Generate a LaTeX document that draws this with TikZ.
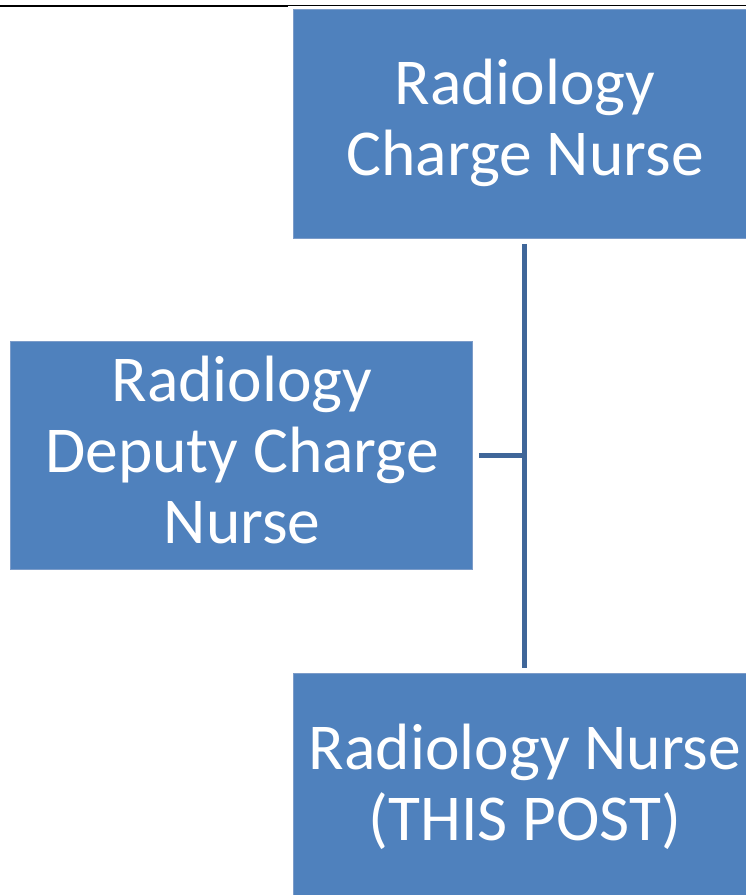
\documentclass[tikz,border=0pt]{standalone}
\usepackage{fontspec}
\setmainfont{Carlito}
\definecolor{boxblue}{HTML}{4F81BD}
\definecolor{boxedge}{HTML}{7C9CC9}
\definecolor{linkblue}{HTML}{3F6699}
\begin{document}
\begin{tikzpicture}[x=1pt,y=-1pt,
  orgbox/.style={rectangle,fill=boxblue,draw=boxedge,line width=0.8pt,inner sep=0pt,anchor=north west},
  orgtext/.style={inner sep=0pt,anchor=base,text=white,font=\fontsize{65.5}{71}\selectfont},
  link/.style={draw=linkblue,line width=5pt}]
\useasboundingbox (0,0) rectangle (746,895);
\clip (0,0) rectangle (746,895);
\fill[white] (0,0) rectangle (746,895);
% top rule
\coordinate (ruleA) at (0,6);
\coordinate (ruleB) at (288,6);
\coordinate (ruleC) at (746,5.5);
\draw[black,line width=2.2pt] (ruleA) -- (ruleB);
\draw[black,line width=1.2pt] (ruleB |- ruleC) -- (ruleC);
% boxes
\node[orgbox,minimum width=463pt,minimum height=229pt] (top) at (293,9) {};
\node[orgbox,minimum width=462pt,minimum height=228pt] (left) at (10,341) {};
\node[orgbox,minimum width=463pt,minimum height=240pt] (bottom) at (293,673) {};
% texts
\node[orgtext] (topT) at (525,104) {\begin{tabular}[t]{@{}c@{}}Radiology\\Charge Nurse\end{tabular}};
\node[orgtext] (leftT) at (242,401) {\begin{tabular}[t]{@{}c@{}}Radiology\\Deputy Charge\\Nurse\end{tabular}};
\node[orgtext] (bottomT) at (525,769) {\begin{tabular}[t]{@{}c@{}}Radiology Nurse\\(THIS POST)\end{tabular}};
% connectors
\coordinate (vtop) at ([yshift=-5pt]top.south);
\coordinate (vbot) at ([yshift=5pt]bottom.north);
\draw[link] (vtop) -- (vbot);
\coordinate (hstart) at ([xshift=6pt]left.east);
\draw[link] (hstart) -- (hstart -| vtop);
\end{tikzpicture}
\end{document}
